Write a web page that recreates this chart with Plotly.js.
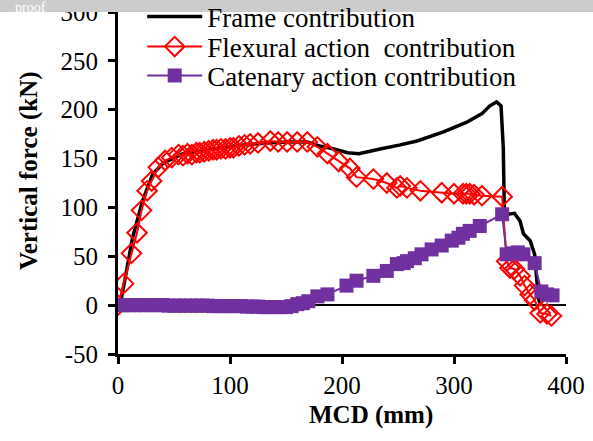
<!DOCTYPE html>
<html><head><meta charset="utf-8">
<script src="https://cdn.plot.ly/plotly-3.0.1.min.js"></script>
<style>html,body{margin:0;padding:0;background:#fff}#chart{width:593px;height:441px}</style>
</head><body><div id="chart"></div>
<script>
// Frame contribution (black line)
const frameX = [0,2,6,13,22,31,40,58,80,103,133,150,169,180,192,205,215,222,235,252,267,290,311,325,332,338,342,344,345,348,354,359,362,368,372,374,376,378];
const frameY = [0,1,25,69,107,134,145,155,159,163,166,167,167,163,160,156,155,157,160,164,168,177,187,196,204,208,204,161,93,93,94,86,73,66,52,25,4,0];
// Flexural action contribution (red open diamonds)
const flexX = [0,5,12,17,21,26,30,36,42,48,54,58,62,66,70,73,77,81,85,88,92,96,100,103,108,113,118,125,136,143,151,160,169,178,187,197,207,213,228,240,249,252,258,270,289,300,308,311,314,318,325,343,347,350,354,359,363,368,372,377,383,387];
const flexY = [0,22,53,74,97,117,127,141,148,151,154,153,155,154,156,156,157,158,159,159,160,160,161,161,163,164,165,166,168,167,167,167,167,162,155,147,140,131,129,125,120,122,120,117,115,114,114,114,114,113,112,111,45,38,37,30,20,11,5,-8,-9,-11];
// Catenary action contribution (purple filled squares)
const catX = [0,3,6,10,15,20,25,30,35,40,45,50,55,60,65,70,75,80,85,90,95,100,105,110,115,120,125,130,135,140,145,150,155,160,165,170,178,187,204,213,228,240,249,255,258,265,271,280,289,298,304,308,314,323,343,347,352,357,362,372,378,383,388];
const catY = [0,0,0,0,0,0,0,0,0,0,-0.5,-0.5,-0.5,-0.5,-0.5,-0.5,-0.5,-0.5,-1,-1,-1,-1,-1,-1,-1.5,-1.5,-1.5,-2,-2,-2,-2,-2,-1,1,2,4,9,11,20,25,30,35,42,43,45,48,52,57,61,66,69,73,76,81,93,52,53,54,52,43,14,11,10];
const seriesNames = ["Frame contribution","Flexural action\u00a0 contribution","Catenary action contribution"];
const xTicks = [0,100,200,300,400];
const yTicks = [-50,0,50,100,150,200,250,300];

const FONT = "Liberation Serif, Times New Roman, serif";
const traces = [
  {x: frameX, y: frameY, name: seriesNames[0], legend: "legend", mode: "lines", line: {color: "#000", width: 3.5}},
  {x: flexX, y: flexY, name: seriesNames[1], legend: "legend2", mode: "lines+markers", line: {color: "#ff0000", width: 2},
   marker: {symbol: "diamond-open", size: 15, color: "#ff0000", line: {width: 2, color: "#ff0000"}}},
  {x: catX, y: catY, name: seriesNames[2], legend: "legend3", mode: "lines+markers", line: {color: "#7030A0", width: 2},
   marker: {symbol: "square", size: 14, color: "#7030A0"}}
];
function leg(py) {
  return {x: 0.054, y: (354 - py) / 342, xanchor: "left", yanchor: "middle", bgcolor: "rgba(0,0,0,0)",
          font: {family: FONT, size: 27, color: "#000"}, itemwidth: 55};
}
const layout = {
  width: 593, height: 441,
  margin: {l: 118, r: 27, t: 12, b: 87, autoexpand: false},
  paper_bgcolor: "#fff", plot_bgcolor: "#fff",
  font: {family: FONT, size: 25, color: "#000"},
  showlegend: true,
  legend: leg(17), legend2: leg(47), legend3: leg(76),
  xaxis: {range: [0, 400], tickvals: xTicks, ticktext: xTicks.map(String), showgrid: false, zeroline: false,
          showline: true, linecolor: "#000", linewidth: 3, ticks: "outside", ticklen: 7, tickwidth: 3, tickcolor: "#000",
          ticklabeloverflow: "allow", tickfont: {family: FONT, size: 25}},
  yaxis: {range: [-50, 300], tickvals: yTicks, ticktext: yTicks.map(String), showgrid: false,
          zeroline: true, zerolinecolor: "#000", zerolinewidth: 2,
          showline: true, linecolor: "#000", linewidth: 3, ticks: "outside", ticklen: 7, tickwidth: 3, tickcolor: "#000",
          ticklabeloverflow: "allow", ticklabelstandoff: 5, tickfont: {family: FONT, size: 25}},
  annotations: [
    {text: "<b>MCD (mm)</b>", xref: "paper", yref: "paper", x: (371-118)/448, y: (354-415)/342, xanchor: "center", yanchor: "middle",
     showarrow: false, font: {family: FONT, size: 25}},
    {text: "<b>Vertical force (kN)</b>", xref: "paper", yref: "paper", x: (29-118)/448, y: (354-171)/342, textangle: -90,
     xanchor: "center", yanchor: "middle", showarrow: false, font: {family: FONT, size: 25}},
    {text: "proof", xref: "paper", yref: "paper", x: (14-118)/448, y: (354+1)/342, xanchor: "left", yanchor: "top",
     borderpad: 0, showarrow: false, font: {family: FONT, size: 14, color: "#fff"}}
  ],
  shapes: [
    {type: "rect", xref: "paper", yref: "paper", x0: -0.3, x1: 1.1, y0: 1.0, y1: 1.1, layer: "above",
     fillcolor: "#cccccc", line: {width: 0}}
  ]
};
Plotly.newPlot("chart", traces, layout, {displayModeBar: false, staticPlot: true});
</script></body></html>
